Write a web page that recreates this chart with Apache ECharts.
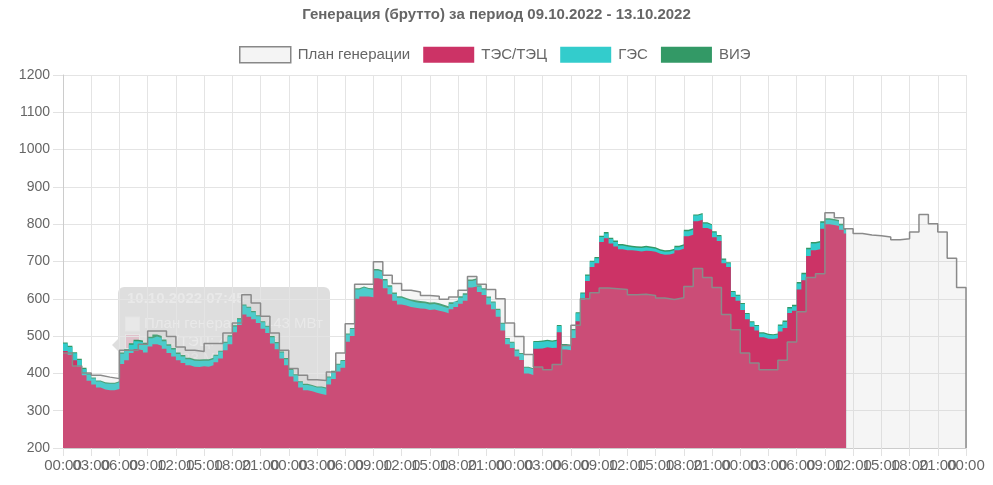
<!DOCTYPE html>
<html>
<head>
<meta charset="utf-8">
<script src="https://cdn.jsdelivr.net/npm/echarts@6/dist/echarts.min.js"></script>
<style>
html,body{margin:0;padding:0;background:#ffffff;}
#chart{width:993px;height:485px;}
</style>
</head>
<body>
<div id="chart"></div>
<script>
// ---------- data ----------
const chartTitle = 'Генерация (брутто) за период 09.10.2022 - 13.10.2022';
const seriesNames = ['План генерации', 'ТЭС/ТЭЦ', 'ГЭС', 'ВИЭ'];
const tickLabels = ['00:00', '03:00', '06:00', '09:00', '12:00', '15:00', '18:00', '21:00'];

// plan, hourly (96 hours)
const planHourly = [
  455,420,401,395,390,386,462,462,478,514,514,499,471,462,459,480,480,508,535,611,589,553,508,462,
  413,395,383,381,404,455,533,639,639,699,663,641,623,618,609,607,599,605,623,660,639,625,600,535,
  499,451,417,410,424,475,529,600,616,629,627,625,611,612,609,602,598,603,633,681,657,630,558,517,
  455,428,410,410,435,484,565,657,667,831,817,788,775,771,769,766,758,761,779,826,801,779,709,630
];

// actual, half-hourly from 00:00 09.10
const tesValues = [
  460,450, 435,418, 395,380, 370,362, 357,355, 355,358,
  425,435, 455,465, 462,456, 472,478, 474,466, 455,445,
  435,428, 422,418, 417,419, 418,422, 430,440, 462,478,
  510,530, 558,552, 545,535, 520,508, 480,465, 440,422,
  392,378, 362,355, 352,348, 345,342, 370,385, 405,415,
  485,500, 600,606, 606,604, 655,652, 628,612, 595,585,
  582,578, 576,574, 573,570, 571,568, 565,561, 572,578,
  587,595, 630,633, 618,610, 585,572, 552,515, 478,468,
  445,436, 400,396, 466,467, 470,468, 469,510, 464,462,
  495,540, 598,648, 685,695, 752,762, 748,740, 733,730,
  730,729, 727,729, 728,726, 721,718, 719,722, 730,734,
  768,772, 808,812, 790,785, 765,755, 695,685, 605,595,
  570,545, 525,515, 497,493, 492,494, 512,522, 562,568,
  625,650, 715,730, 733,788, 800,798, 795,785,
  775
];
const gesValues = [
  20,21, 19,18, 17,17, 16,16, 16,17, 17,18,
  28,27, 22,21, 22,22, 22,21, 21,20, 19,19,
  17,17, 16,16, 16,15, 16,16, 17,18, 20,21,
  16,15, 24,24, 19,18, 17,17, 17,16, 16,16,
  17,17, 14,14, 14,14, 17,17, 19,19, 18,18,
  19,19, 25,24, 20,20, 21,20, 21,20, 18,18,
  16,16, 15,15, 15,15, 15,15, 14,14, 14,14,
  16,16, 18,18, 15,15, 18,18, 18,18, 14,14,
  16,16, 15,15, 18,18, 17,17, 18,17, 12,12,
  21,21, 16,14, 14,14, 14,13, 12,12, 10,10,
  8,8, 9,9, 8,8, 8,8, 8,8, 8,8,
  13,13, 15,15, 12,12, 13,13, 10,10, 13,13,
  16,14, 12,12, 10,10, 10,10, 16,16, 12,12,
  16,16, 18,18, 18,16, 12,12, 12,12,
  10
];
const vieValues = [
  3,3, 3,3, 3,3, 3,3, 3,3, 3,3,
  3,3, 4,4, 4,4, 4,5, 5,5, 4,4,
  4,4, 4,4, 4,4, 4,4, 3,3, 3,3,
  3,3, 3,3, 3,3, 3,3, 3,3, 3,3,
  3,3, 3,3, 3,3, 3,3, 3,3, 3,3,
  3,3, 3,3, 3,4, 4,4, 4,4, 4,4,
  4,4, 5,5, 5,5, 5,5, 5,5, 5,4,
  4,4, 4,4, 3,3, 3,3, 3,3, 3,3,
  3,3, 3,3, 3,3, 3,3, 3,3, 3,3,
  3,3, 3,3, 3,3, 3,4, 4,4, 4,4,
  4,4, 4,4, 4,4, 4,4, 4,4, 4,4,
  4,4, 3,3, 3,3, 3,3, 3,3, 3,3,
  3,3, 3,3, 3,3, 3,3, 3,4, 4,4,
  4,4, 4,4, 4,4, 4,4, 4,4,
  4
];
const actualStepHours = 0.5;
const actualEndHour = 83.25;
const planEndHour = 96;
const labelStepHours = 3;

// faded hover tooltip visible in the reference
const tipTitle = '10.10.2022 07:45';
const tipLines = ['План генерации: 443 МВт', 'ТЭС/ТЭЦ: 415 МВт', 'ГЭС: 23 МВт', 'ВИЭ: 4 МВт'];

// ---------- style ----------
const FONT = '"Liberation Sans", Arial, Helvetica, sans-serif';
const C_TES = '#CC3366', C_GES = '#33CCCC', C_VIE = '#339966';
const C_PLAN_LINE = '#8a8a8a', C_PLAN_FILL = 'rgba(200,200,200,0.18)';
const Y_MIN = 200, Y_MAX = 1200;

// ---------- build ----------
function stepPoints(values, step, endHour) {
  const pts = values.map((v, i) => [i * step, v]);
  pts.push([endHour, values[values.length - 1]]);
  return pts;
}
const cumTes = tesValues.slice();
const cumGes = tesValues.map((v, i) => v + gesValues[i]);
const cumVie = cumGes.map((v, i) => v + vieValues[i]);

const planPts = stepPoints(planHourly, 1, planEndHour);
planPts.push([planEndHour, Y_MIN]);

// category labels for every 3-hour tick (all shown, overlapping like the original)
const xLabelCats = [];
for (let h = 0; h <= planEndHour; h += labelStepHours) {
  xLabelCats.push(tickLabels[(h / labelStepHours) % tickLabels.length]);
}

function areaSeries(name, values, color) {
  return {
    name, type: 'line', step: 'end', symbol: 'none', silent: true,
    xAxisIndex: 0,
    data: stepPoints(values, actualStepHours, actualEndHour),
    lineStyle: { width: 0 },
    itemStyle: { color },
    areaStyle: { color, opacity: 1 }
  };
}

const tipChildren = [
  { type: 'rect', shape: { x: 118, y: 287, width: 212, height: 104, r: 6 }, style: { fill: 'rgba(0,0,0,0.13)' } },
  { type: 'polygon', shape: { points: [[112, 345], [118, 339], [118, 351]] }, style: { fill: 'rgba(0,0,0,0.13)' } },
  { type: 'text', style: { x: 127, y: 299, text: tipTitle, fill: 'rgba(255,255,255,0.33)', font: 'bold 15px ' + FONT, verticalAlign: 'middle' } }
];
const tipColors = ['#f5f5f5', C_TES, C_GES, C_VIE];
tipLines.forEach((t, i) => {
  const cy = 324 + i * 17.5;
  tipChildren.push({ type: 'rect', shape: { x: 125, y: cy - 7.5, width: 15, height: 15 }, style: { fill: 'rgba(255,255,255,0.22)' } });
  tipChildren.push({ type: 'rect', shape: { x: 126, y: cy - 6.5, width: 13, height: 13 }, style: { fill: tipColors[i], opacity: 0.2 } });
  tipChildren.push({ type: 'text', style: { x: 144, y: cy, text: t, fill: 'rgba(255,255,255,0.33)', font: '15px ' + FONT, verticalAlign: 'middle' } });
});

const chart = echarts.init(document.getElementById('chart'), null, { renderer: 'canvas' });
chart.setOption({
  animation: false,
  backgroundColor: '#ffffff',
  title: {
    text: chartTitle, left: 'center', top: 7, padding: 0,
    textStyle: { fontSize: 15, fontWeight: 'bold', color: '#666', fontFamily: FONT }
  },
  legend: {
    left: 239, top: 46, padding: 0, icon: 'rect', itemWidth: 51, itemHeight: 16, itemGap: 13,
    textStyle: { fontSize: 15, color: '#666', fontFamily: FONT, padding: [0, 0, 0, 2] },
    data: [
      { name: seriesNames[0], itemStyle: { color: '#f4f4f4', borderColor: '#888', borderWidth: 1.5, opacity: 1 } },
      { name: seriesNames[1], itemStyle: { color: C_TES, borderWidth: 0, opacity: 1 } },
      { name: seriesNames[2], itemStyle: { color: C_GES, borderWidth: 0, opacity: 1 } },
      { name: seriesNames[3], itemStyle: { color: C_VIE, borderWidth: 0, opacity: 1 } }
    ]
  },
  grid: { left: 63, right: 27, top: 75, bottom: 37 },
  xAxis: [
    {
      type: 'value', min: 0, max: planEndHour, interval: labelStepHours,
      axisLine: { show: true, lineStyle: { color: '#cccccc' } },
      axisTick: { show: true, length: 8, lineStyle: { color: '#e2e2e2' } },
      axisLabel: { show: false },
      splitLine: { show: true, lineStyle: { color: '#e4e4e4' } }
    },
    {
      type: 'category', position: 'bottom', boundaryGap: false, data: xLabelCats,
      axisLine: { show: false }, axisTick: { show: false }, splitLine: { show: false },
      axisLabel: { interval: 0, fontSize: 15, color: '#666', fontFamily: FONT, margin: 10 }
    }
  ],
  yAxis: {
    type: 'value', min: Y_MIN, max: Y_MAX, interval: 100,
    axisLine: { show: true, lineStyle: { color: '#cccccc' } },
    axisTick: { show: true, length: 10, lineStyle: { color: '#e2e2e2' } },
    axisLabel: { formatter: v => String(v), fontSize: 14, color: '#666', fontFamily: FONT, margin: 13 },
    splitLine: { show: true, lineStyle: { color: '#e4e4e4' } }
  },
  series: [
    areaSeries(seriesNames[3], cumVie, C_VIE),
    areaSeries(seriesNames[2], cumGes, C_GES),
    areaSeries(seriesNames[1], cumTes, C_TES),
    {
      name: seriesNames[0], type: 'line', step: 'end', symbol: 'none', silent: true,
      xAxisIndex: 0,
      data: planPts,
      lineStyle: { color: C_PLAN_LINE, width: 1.5 },
      itemStyle: { color: '#f4f4f4' },
      areaStyle: { color: C_PLAN_FILL, opacity: 1 }
    }
  ],
  graphic: [{ type: 'group', z: 100, children: tipChildren }]
});
</script>
</body>
</html>
